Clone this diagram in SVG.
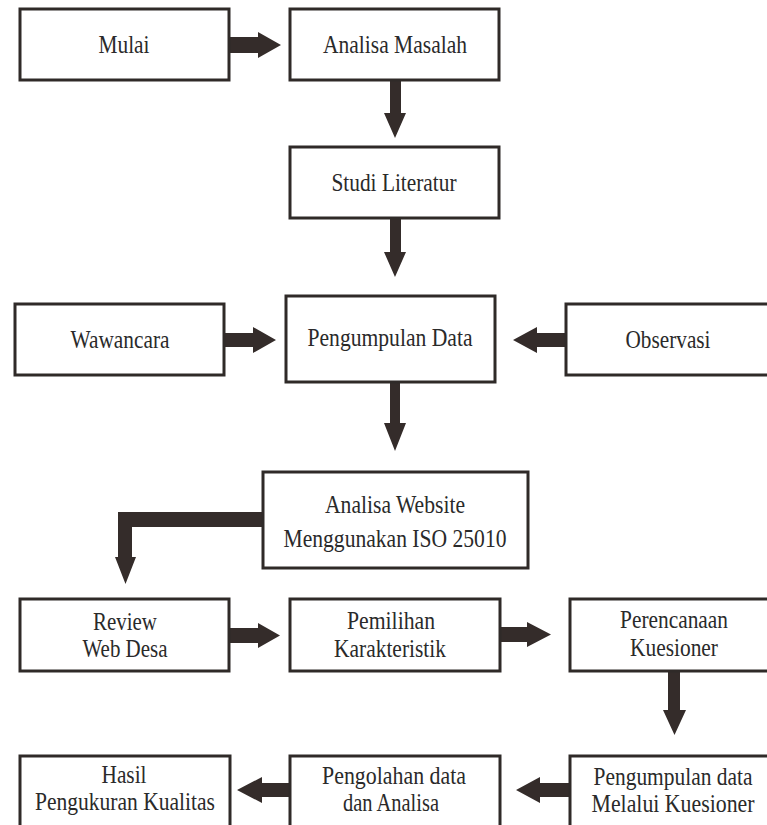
<svg xmlns="http://www.w3.org/2000/svg" width="767" height="825" viewBox="0 0 767 825">
<style>
.box{fill:#fff;stroke:#2f2a28;stroke-width:3}
.arr{fill:#342c2a;stroke:none}
text{font-family:"Liberation Serif","Times New Roman","DejaVu Serif",serif;font-size:24.5px;fill:#2a2a2a;text-anchor:middle}
</style>
<rect width="767" height="825" fill="#fff"/>
<g id="connectors">
<polygon class="arr" points="229,37 258,37 258,32 281,45 258,58 258,53 229,53"/>
<polygon class="arr" points="390,80 401,80 401,113 406,113 395,138 384,113 390,113"/>
<polygon class="arr" points="390,218 401,218 401,252 406,252 395,277 384,252 390,252"/>
<polygon class="arr" points="224,333 253,333 253,327 276,340 253,353 253,347 224,347"/>
<polygon class="arr" points="565,333 537,333 537,327 513,340 537,353 537,347 565,347"/>
<polygon class="arr" points="390,383 400,383 400,423 406,423 395,451 384,423 390,423"/>
<polygon class="arr" points="262,512 118,512 118,557 115,557 125.5,584 136,557 132,557 132,527 262,527"/>
<polygon class="arr" points="229,628 258,628 258,623 280,635.5 258,648 258,643 229,643"/>
<polygon class="arr" points="500,627 527,627 527,622 551,634.5 527,647 527,642 500,642"/>
<polygon class="arr" points="668,671 680,671 680,710 686,710 674.5,735 663,710 668,710"/>
<polygon class="arr" points="569,783 540,783 540,777 516,790 540,803 540,797 569,797"/>
<polygon class="arr" points="289,783 262,783 262,777 237,790 262,803 262,797 289,797"/>
</g>
<g id="mulai"><rect class="box" x="20" y="9" width="209" height="71"/><text x="124" y="53" textLength="51" lengthAdjust="spacingAndGlyphs">Mulai</text></g>
<g id="analisa-masalah"><rect class="box" x="290" y="9" width="209" height="71"/><text x="395" y="53" textLength="144" lengthAdjust="spacingAndGlyphs">Analisa Masalah</text></g>
<g id="studi-literatur"><rect class="box" x="290" y="147" width="209" height="71"/><text x="394" y="191" textLength="125" lengthAdjust="spacingAndGlyphs">Studi Literatur</text></g>
<g id="wawancara"><rect class="box" x="15" y="304" width="209" height="71"/><text x="120" y="348" textLength="99" lengthAdjust="spacingAndGlyphs">Wawancara</text></g>
<g id="pengumpulan-data"><rect class="box" x="286" y="296" width="209" height="86"/><text x="390" y="346" textLength="165" lengthAdjust="spacingAndGlyphs">Pengumpulan Data</text></g>
<g id="observasi"><rect class="box" x="566" y="304" width="204" height="71"/><text x="668" y="348" textLength="85" lengthAdjust="spacingAndGlyphs">Observasi</text></g>
<g id="analisa-website"><rect class="box" x="263" y="472" width="265" height="96"/><text x="395" y="513" textLength="140" lengthAdjust="spacingAndGlyphs">Analisa Website</text><text x="395" y="547" textLength="223" lengthAdjust="spacingAndGlyphs">Menggunakan ISO 25010</text></g>
<g id="review-web-desa"><rect class="box" x="20" y="599" width="209" height="72"/><text x="125" y="630" textLength="64" lengthAdjust="spacingAndGlyphs">Review</text><text x="125" y="657" textLength="85" lengthAdjust="spacingAndGlyphs">Web Desa</text></g>
<g id="pemilihan-karakteristik"><rect class="box" x="290" y="599" width="210" height="72"/><text x="391" y="629" textLength="88" lengthAdjust="spacingAndGlyphs">Pemilihan</text><text x="390" y="657" textLength="112" lengthAdjust="spacingAndGlyphs">Karakteristik</text></g>
<g id="perencanaan-kuesioner"><rect class="box" x="570" y="599" width="200" height="72"/><text x="674" y="628" textLength="108" lengthAdjust="spacingAndGlyphs">Perencanaan</text><text x="674" y="656" textLength="88" lengthAdjust="spacingAndGlyphs">Kuesioner</text></g>
<g id="hasil"><rect class="box" x="20" y="756" width="210" height="72"/><text x="124" y="783" textLength="45" lengthAdjust="spacingAndGlyphs">Hasil</text><text x="125" y="810" textLength="180" lengthAdjust="spacingAndGlyphs">Pengukuran Kualitas</text></g>
<g id="pengolahan"><rect class="box" x="290" y="756" width="210" height="72"/><text x="394" y="784" textLength="144" lengthAdjust="spacingAndGlyphs">Pengolahan data</text><text x="391" y="811" textLength="96" lengthAdjust="spacingAndGlyphs">dan Analisa</text></g>
<g id="pengumpulan-kuesioner"><rect class="box" x="570" y="756" width="200" height="72"/><text x="673" y="785" textLength="159" lengthAdjust="spacingAndGlyphs">Pengumpulan data</text><text x="673" y="812" textLength="163" lengthAdjust="spacingAndGlyphs">Melalui Kuesioner</text></g>
</svg>
